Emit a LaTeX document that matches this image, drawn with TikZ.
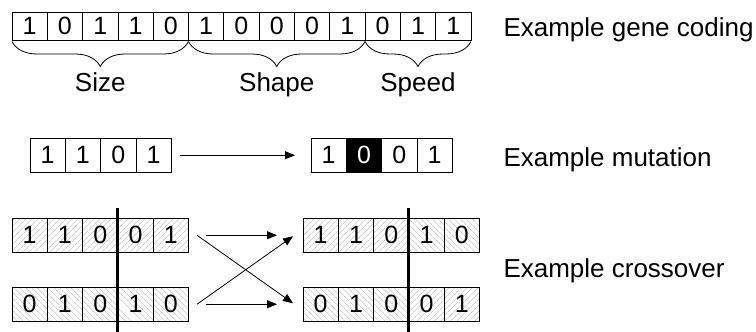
\documentclass[tikz,border=0pt]{standalone}
\usepackage{fontspec}
\setmainfont{Liberation Sans}
\usetikzlibrary{arrows.meta,patterns.meta,decorations.pathreplacing,calc}

\begin{document}
\begin{tikzpicture}[x=1pt,y=1pt,
  font=\fontsize{25}{30}\selectfont,
  cell/.style={draw, line width=0.8pt, inner sep=0pt, outer sep=0pt,
    minimum width=35.3pt, anchor=north west},
  generow/.style={cell, minimum height=28.5pt},
  sqrow/.style={cell, minimum height=34.5pt},
  hatchA/.style={pattern={Lines[angle=45,distance=4pt,line width=0.6pt]},
    pattern color=black!30},
  hatchB/.style={pattern={Lines[angle=-45,distance=4pt,line width=0.6pt]},
    pattern color=black!30},
  flipped/.style={fill=black, text=white},
  arr/.style={line width=0.8pt, -{Triangle[length=10pt,width=8pt]}},
  cut/.style={line width=3pt},
  curly/.style={decorate, line width=0.8pt,
    decoration={brace, mirror, amplitude=25pt, aspect=0.5}},
  fieldname/.style={anchor=base, font=\fontsize{26}{31}\selectfont},
  caption/.style={anchor=base west, font=\fontsize{26}{31}\selectfont},
]
\useasboundingbox (0,0) rectangle (756,-332);

% gene string
\foreach \b [count=\i] in {1,0,1,1,0,1,0,0,0,1,0,1,1}
  \node[generow] (g\i) at ({12+(\i-1)*35.3},-12) {\b};

\draw[curly] ($(g1.south west)+(0,-1)$) -- ($(g5.south east)+(0,-1)$);
\draw[curly] ($(g6.south west)+(0,-1)$) -- ($(g10.south east)+(0,-1)$);
\draw[curly] ($(g11.south west)+(0,-1)$) -- ($(g13.south east)+(0,-1)$);
\node[fieldname] (lsize)  at ($(g1.south west)!0.5!(g5.south east)+(0,-51)$) {Size};
\node[fieldname] (lshape) at ($(g6.south west)!0.5!(g10.south east)+(0,-51)$) {Shape};
\node[fieldname] (lspeed) at ($(g11.south west)!0.5!(g13.south east)+(0,-51)$) {Speed};

% mutation
\foreach \b [count=\i] in {1,1,0,1}
  \node[sqrow] (m\i) at ({30+(\i-1)*35.3},-138) {\b};
\node[sqrow] (n1) at (311,-138) {1};
\node[sqrow, flipped] (n2) at (346.3,-138) {0};
\node[sqrow] (n3) at (381.6,-138) {0};
\node[sqrow] (n4) at (416.9,-138) {1};
\draw[arr] ($(m4.east)+(9,0)$) -- ($(n1.west)+(-16,0)$);

% crossover: parents
\foreach \b [count=\i] in {1,1,0,0,1}
  \node[sqrow, hatchA] (a\i) at ({12+(\i-1)*35.3},-218) {\b};
\foreach \b [count=\i] in {0,1,0,1,0}
  \node[sqrow, hatchB] (b\i) at ({12+(\i-1)*35.3},-287) {\b};

% crossover: children
\node[sqrow, hatchA] (c1) at (303,-218) {1};
\node[sqrow, hatchA] (c2) at (338.3,-218) {1};
\node[sqrow, hatchA] (c3) at (373.6,-218) {0};
\node[sqrow, hatchB] (c4) at (408.9,-218) {1};
\node[sqrow, hatchB] (c5) at (444.2,-218) {0};
\node[sqrow, hatchB] (d1) at (303,-287) {0};
\node[sqrow, hatchB] (d2) at (338.3,-287) {1};
\node[sqrow, hatchB] (d3) at (373.6,-287) {0};
\node[sqrow, hatchA] (d4) at (408.9,-287) {0};
\node[sqrow, hatchA] (d5) at (444.2,-287) {1};

% cut points
\draw[cut] ($(a3.north east)+(0,10)$) -- ($(b3.south east)+(0,-11)$);
\draw[cut] ($(c3.north east)+(0,10)$) -- ($(d3.south east)+(0,-11)$);

% recombination arrows
\draw[arr] ($(a5.east)+(17.5,0)$) -- ($(c1.west)+(-26,0)$);
\draw[arr] ($(b5.east)+(17.5,0)$) -- ($(d1.west)+(-26,0)$);
\draw[arr] ($(a5.east)+(8.5,0)$) -- ($(d1.west)+(-10,1)$);
\draw[arr] ($(b5.east)+(8.5,0)$) -- ($(c1.west)+(-10,-1)$);

% captions
\node[caption] (lgene) at (500,-36) {Example gene coding};
\node[caption] (lmut)  at (500,-166) {Example mutation};
\node[caption] (lcross) at (500,-277) {Example crossover};
\end{tikzpicture}
\end{document}
